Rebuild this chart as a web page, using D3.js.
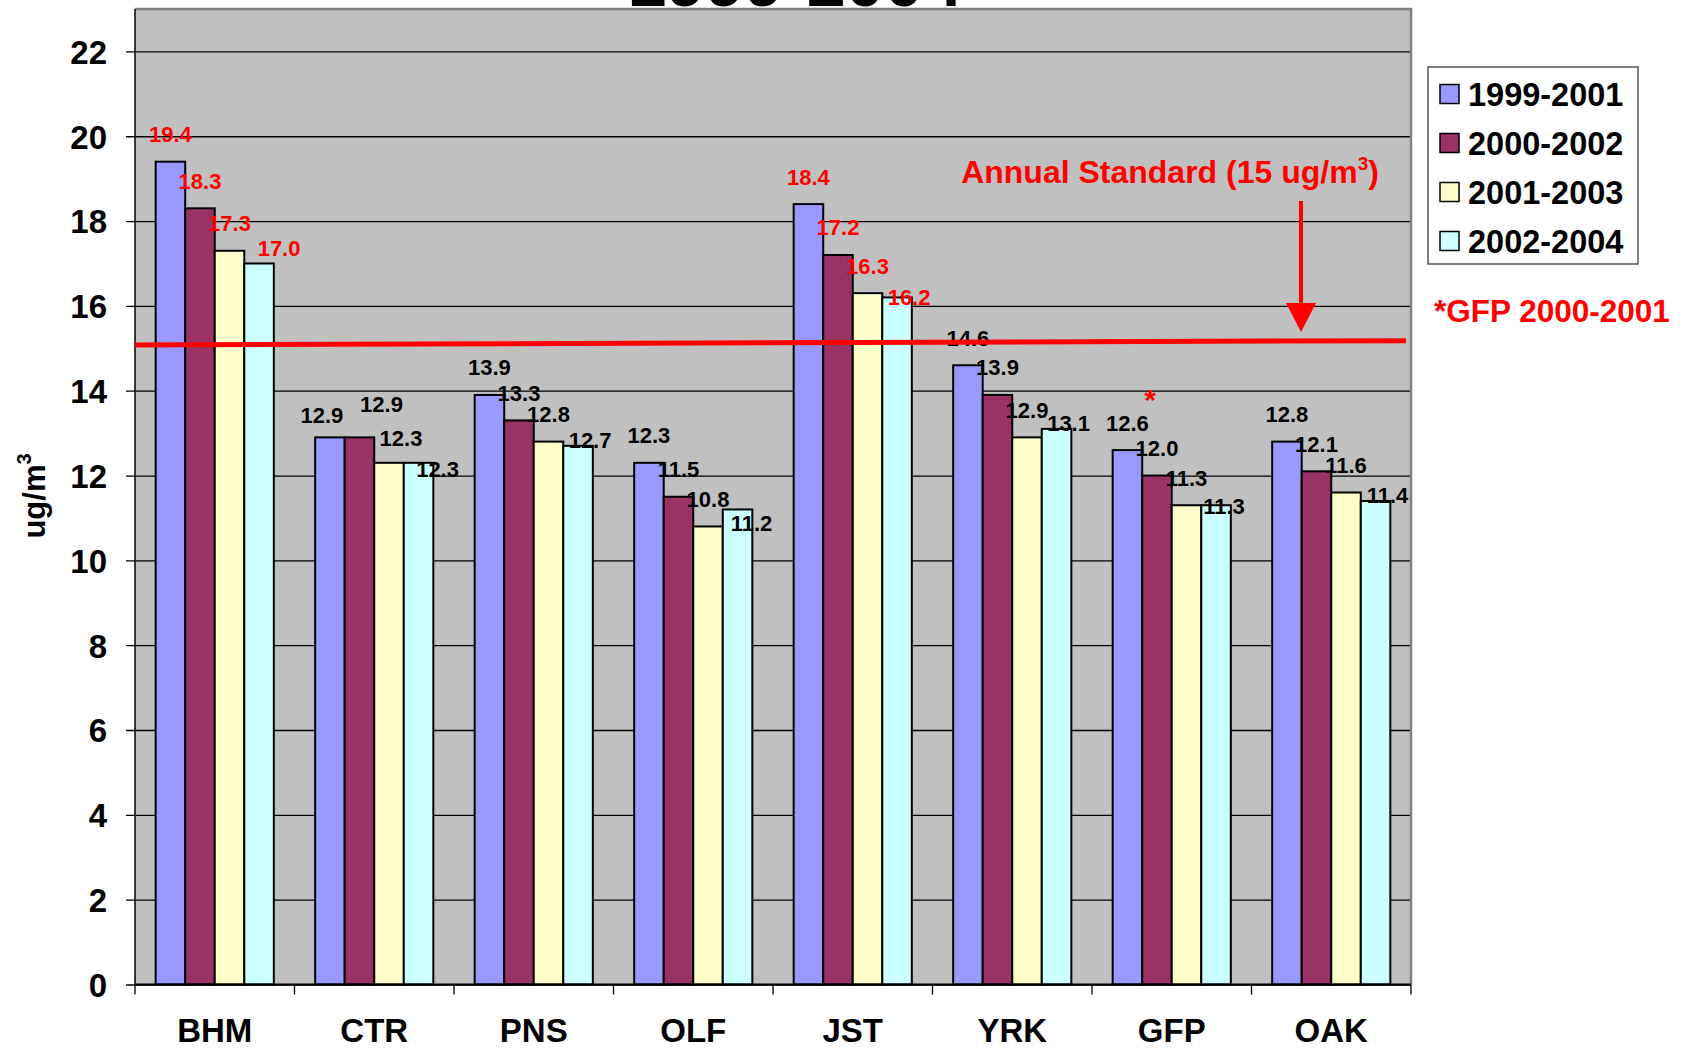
<!DOCTYPE html>
<html>
<head>
<meta charset="utf-8">
<script src="https://cdn.jsdelivr.net/npm/d3@7"></script>
<style>
  html, body { margin: 0; padding: 0; background: #fff; }
  svg text { font-family: "Liberation Sans", Arial, sans-serif; font-weight: bold; }
</style>
</head>
<body>
<div id="chart"></div>
<script>
// sites and 3-year averages (ug/m3)
const sites = ['BHM', 'CTR', 'PNS', 'OLF', 'JST', 'YRK', 'GFP', 'OAK'];
const periods = ['1999-2001', '2000-2002', '2001-2003', '2002-2004'];
const colors = ['#9999FF', '#993366', '#FFFFCC', '#CCFFFF'];

const v1999_2001 = [19.4, 12.9, 13.9, 12.3, 18.4, 14.6, 12.6, 12.8];
const v2000_2002 = [18.3, 12.9, 13.3, 11.5, 17.2, 13.9, 12.0, 12.1];
const v2001_2003 = [17.3, 12.3, 12.8, 10.8, 16.3, 12.9, 11.3, 11.6];
const v2002_2004 = [17.0, 12.3, 12.7, 11.2, 16.2, 13.1, 11.3, 11.4];
const seriesValues = [v1999_2001, v2000_2002, v2001_2003, v2002_2004];

const yTicks = [0, 2, 4, 6, 8, 10, 12, 14, 16, 18, 20, 22];
const standard = 15;
const redSites = ['BHM', 'JST']; // labels shown in red (over the standard)

// hand-placed label nudges from the original slide [dx, dy]
const labelNudge = {
    'BHM-3': [8, -10],
    'CTR-0': [-8, 5], 'CTR-1': [22, -6], 'CTR-2': [12, 3], 'CTR-3': [7, 12],
    'OLF-3': [2, 19], 'JST-3': [0, 5], 'GFP-3': [-4, 6]
};

const W = 1687, H = 1048;
const plot = { left: 135, right: 1411, top: 9, bottom: 984.5 };

const svg = d3.select('#chart').append('svg')
    .attr('width', W)
    .attr('height', H);

const x0 = d3.scaleBand().domain(sites).range([plot.left, plot.right]);
const x1 = d3.scaleBand().domain(d3.range(periods.length))
    .range([0, x0.bandwidth()])
    .paddingOuter(0.7);
const y = d3.scaleLinear().domain([0, 23]).range([plot.bottom, plot.top]);

// plot background
svg.append('rect')
    .attr('x', plot.left)
    .attr('y', plot.top)
    .attr('width', plot.right - plot.left)
    .attr('height', plot.bottom - plot.top)
    .attr('fill', '#C0C0C0');

// gridlines + y axis
const yAxis = d3.axisLeft(y).tickValues(yTicks)
    .tickSize(-(plot.right - plot.left))
    .tickFormat(d3.format('d'))
    .tickPadding(28);
const gy = svg.append('g')
    .attr('transform', `translate(${plot.left},0)`)
    .call(yAxis);
gy.select('.domain').remove();
gy.selectAll('.tick line')
    .attr('x1', -9)
    .attr('stroke', '#000')
    .attr('stroke-width', 1.3);
gy.selectAll('.tick text')
    .attr('font-size', 33)
    .attr('fill', '#000')
    .attr('dy', '0.36em');

// frame (top/right grey, left black)
svg.append('path')
    .attr('d', `M${plot.left},${plot.top}H${plot.right}V${plot.bottom}`)
    .attr('fill', 'none')
    .attr('stroke', '#808080')
    .attr('stroke-width', 2.5);
svg.append('line')
    .attr('x1', plot.left).attr('x2', plot.left)
    .attr('y1', plot.top).attr('y2', plot.bottom)
    .attr('stroke', '#000')
    .attr('stroke-width', 1.5);

// bars
const groups = svg.append('g').selectAll('g')
    .data(sites)
    .join('g')
    .attr('transform', d => `translate(${x0(d)},0)`);

groups.selectAll('rect')
    .data((site, i) => seriesValues.map((vals, s) => ({ site, s, v: vals[i] })))
    .join('rect')
    .attr('x', d => x1(d.s))
    .attr('y', d => y(d.v))
    .attr('width', x1.bandwidth())
    .attr('height', d => y(0) - y(d.v))
    .attr('fill', d => colors[d.s])
    .attr('stroke', '#000')
    .attr('stroke-width', 2);

// data labels
groups.selectAll('text.val')
    .data((site, i) => seriesValues.map((vals, s) => ({ site, s, v: vals[i] })))
    .join('text')
    .attr('class', 'val')
    .attr('x', d => {
        const n = labelNudge[`${d.site}-${d.s}`] || [0, 0];
        return x1(d.s) + x1.bandwidth() / 2 + (d.s === 3 ? 12 : 0) + n[0];
    })
    .attr('y', d => {
        const n = labelNudge[`${d.site}-${d.s}`] || [0, 0];
        return y(d.v) + (d.s === 3 ? 2.5 : -19.5) + n[1];
    })
    .attr('text-anchor', 'middle')
    .attr('font-size', 22)
    .attr('fill', d => redSites.includes(d.site) ? '#FF0000' : '#000')
    .text(d => d.v.toFixed(1));

// asterisk over GFP
svg.append('text')
    .attr('x', x0('GFP') + x1(1) + x1.bandwidth() / 2 - 7)
    .attr('y', y(12.0) - 66)
    .attr('text-anchor', 'middle')
    .attr('font-size', 30)
    .attr('fill', '#FF0000')
    .text('*');

// x axis line and ticks
svg.append('line')
    .attr('x1', plot.left).attr('x2', plot.right)
    .attr('y1', y(0)).attr('y2', y(0))
    .attr('stroke', '#000')
    .attr('stroke-width', 2);
svg.append('g').selectAll('line')
    .data(sites.concat(['end']))
    .join('line')
    .attr('x1', (d, i) => plot.left + i * x0.step())
    .attr('x2', (d, i) => plot.left + i * x0.step())
    .attr('y1', y(0))
    .attr('y2', y(0) + 10)
    .attr('stroke', '#000')
    .attr('stroke-width', 1.3);
svg.append('g').selectAll('text')
    .data(sites)
    .join('text')
    .attr('x', d => x0(d) + x0.bandwidth() / 2)
    .attr('y', 1042)
    .attr('text-anchor', 'middle')
    .attr('font-size', 33)
    .text(d => d);

// standard line (hand drawn, slightly tilted)
svg.append('line')
    .attr('x1', plot.left)
    .attr('x2', plot.right - 5)
    .attr('y1', y(standard + 0.08))
    .attr('y2', y(standard + 0.18))
    .attr('stroke', '#FF0000')
    .attr('stroke-width', 5);

// annotation + arrow
const ann = svg.append('text')
    .attr('x', 1170)
    .attr('y', 183)
    .attr('text-anchor', 'middle')
    .attr('font-size', 32)
    .attr('fill', '#FF0000');
ann.append('tspan').text('Annual Standard (15 ug/m');
ann.append('tspan').attr('font-size', 19).attr('dy', -13).text('3');
ann.append('tspan').attr('dy', 13).text(')');

svg.append('line')
    .attr('x1', 1301).attr('x2', 1301)
    .attr('y1', 201).attr('y2', 308)
    .attr('stroke', '#FF0000')
    .attr('stroke-width', 4);
svg.append('path')
    .attr('d', 'M1286,303L1316,303L1301,332Z')
    .attr('fill', '#FF0000');

// title (cut off at the top in the original)
svg.append('text')
    .attr('x', 795)
    .attr('y', 6)
    .attr('text-anchor', 'middle')
    .attr('font-size', 70)
    .text('1999-2004');

// y label
const yl = svg.append('text')
    .attr('transform', 'translate(45,496) rotate(-90)')
    .attr('text-anchor', 'middle')
    .attr('font-size', 31);
yl.append('tspan').text('ug/m');
yl.append('tspan').attr('font-size', 20).attr('dy', -14).text('3');

// legend
const legend = svg.append('g');
legend.append('rect')
    .attr('x', 1428).attr('y', 67)
    .attr('width', 210).attr('height', 197)
    .attr('fill', '#fff')
    .attr('stroke', '#555')
    .attr('stroke-width', 1.5);
const items = legend.selectAll('g.item')
    .data(periods)
    .join('g')
    .attr('class', 'item')
    .attr('transform', (d, i) => `translate(0,${94 + i * 49})`);
items.append('rect')
    .attr('x', 1440).attr('y', -9.5)
    .attr('width', 19).attr('height', 19)
    .attr('fill', (d, i) => colors[i])
    .attr('stroke', '#000')
    .attr('stroke-width', 1.5);
items.append('text')
    .attr('x', 1468)
    .attr('y', 11.5)
    .attr('font-size', 32.5)
    .text(d => d);

svg.append('text')
    .attr('x', 1434)
    .attr('y', 322)
    .attr('font-size', 31.5)
    .attr('fill', '#FF0000')
    .text('*GFP 2000-2001');
</script>
</body>
</html>
